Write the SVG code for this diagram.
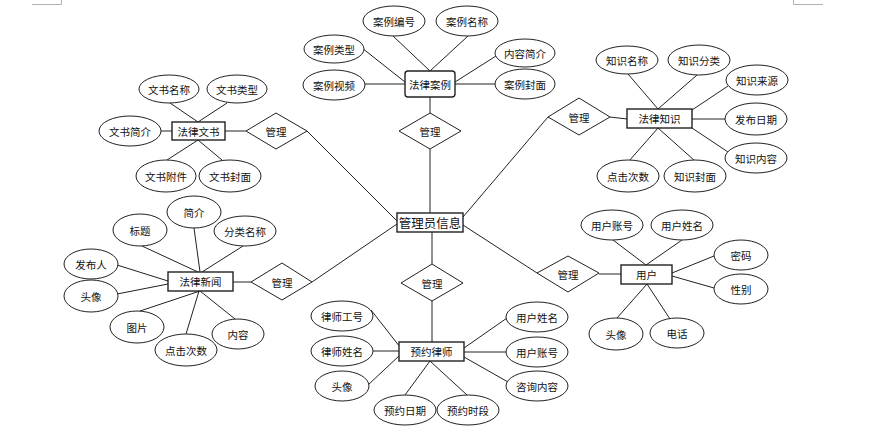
<svg xmlns="http://www.w3.org/2000/svg" width="884" height="435" viewBox="0 0 884 435">
<style>
  .bg{fill:#ffffff}
  .att ellipse{fill:#ffffff;stroke:#222;stroke-width:1}
  .ent rect{fill:#ffffff;stroke:#222;stroke-width:1.4}
  .rel polygon{fill:#ffffff;stroke:#222;stroke-width:1}
  .conn line{stroke:#222;stroke-width:1}
  .mark line{stroke:#b0b0b0;stroke-width:1}
  text{font-family:"Noto Sans CJK SC","Microsoft YaHei",sans-serif;font-size:10.5px;fill:#111;text-anchor:middle;dominant-baseline:central}
  .big{font-size:12.5px}
</style>
<rect class="bg" x="0" y="0" width="884" height="435"/>
<g class="mark">
  <line x1="32" y1="4.5" x2="61.5" y2="4.5"/><line x1="61.5" y1="0" x2="61.5" y2="4.5"/>
  <line x1="793.5" y1="0" x2="793.5" y2="4.5"/><line x1="793.5" y1="4.5" x2="823" y2="4.5"/>
</g>
<g id="connectors" class="conn">
  <!-- 法律案例 -->
  <line x1="393" y1="36" x2="430" y2="71"/><line x1="468" y1="36" x2="430" y2="71"/>
  <line x1="362" y1="48" x2="405" y2="82"/><line x1="365" y1="84" x2="405" y2="84"/>
  <line x1="496" y1="56" x2="455" y2="82"/><line x1="455" y1="84" x2="495" y2="84"/>
  <line x1="430" y1="97" x2="430" y2="113"/><line x1="430" y1="149" x2="430" y2="213"/>
  <!-- 法律文书 -->
  <line x1="170" y1="103" x2="198" y2="122"/><line x1="227" y1="103" x2="198" y2="122"/>
  <line x1="161" y1="131" x2="172" y2="131"/><line x1="167" y1="160" x2="198" y2="140"/>
  <line x1="222" y1="160" x2="198" y2="140"/><line x1="225" y1="131" x2="246" y2="131"/>
  <line x1="307" y1="131" x2="397" y2="221"/>
  <!-- 法律知识 -->
  <line x1="628" y1="74" x2="658" y2="109"/><line x1="697" y1="75" x2="658" y2="109"/>
  <line x1="728" y1="86" x2="692" y2="110"/><line x1="692" y1="119" x2="725" y2="119"/>
  <line x1="728" y1="152" x2="692" y2="128"/><line x1="629" y1="161" x2="658" y2="128"/>
  <line x1="695" y1="161" x2="658" y2="128"/><line x1="610" y1="117" x2="627" y2="119"/>
  <line x1="548" y1="117" x2="463" y2="217"/>
  <!-- 法律新闻 -->
  <line x1="194" y1="228" x2="200" y2="272"/><line x1="142" y1="246" x2="198" y2="272"/>
  <line x1="243" y1="246" x2="202" y2="272"/><line x1="117" y1="265" x2="168" y2="281"/>
  <line x1="117" y1="294" x2="168" y2="284"/><line x1="140" y1="311" x2="200" y2="291"/>
  <line x1="186" y1="334" x2="199" y2="291"/><line x1="235" y1="319" x2="200" y2="291"/>
  <line x1="233" y1="282" x2="251" y2="282"/><line x1="312" y1="282" x2="397" y2="224"/>
  <!-- 预约律师 -->
  <line x1="432" y1="232" x2="432" y2="264"/><line x1="432" y1="301" x2="432" y2="342"/>
  <line x1="371" y1="310" x2="400" y2="347"/><line x1="373" y1="351" x2="399" y2="351"/>
  <line x1="368" y1="385" x2="400" y2="355"/><line x1="405" y1="395" x2="430" y2="361"/>
  <line x1="467" y1="395" x2="430" y2="361"/><line x1="507" y1="318" x2="464" y2="348"/>
  <line x1="464" y1="352" x2="506" y2="352"/><line x1="508" y1="382" x2="464" y2="357"/>
  <!-- 用户 -->
  <line x1="613" y1="240" x2="646" y2="265"/><line x1="682" y1="240" x2="646" y2="265"/>
  <line x1="714" y1="256" x2="672" y2="273"/><line x1="714" y1="288" x2="672" y2="276"/>
  <line x1="617" y1="318" x2="647" y2="284"/><line x1="670" y1="319" x2="647" y2="284"/>
  <line x1="599" y1="274" x2="621" y2="274"/><line x1="463" y1="225" x2="537" y2="273"/>
</g>
<!-- 管理员信息 -->
<g id="admin" class="ent"><rect x="397" y="213" width="66" height="19"/><text class="big" x="430" y="222.5">管理员信息</text></g>
<!-- 法律案例 -->
<g id="case" class="ent"><rect x="405" y="71" width="50" height="26" rx="3"/><text x="430" y="84">法律案例</text></g>
<g id="case-attrs" class="att">
  <g id="a-case-no"><ellipse cx="394" cy="21" rx="31" ry="15"/><text x="394" y="21">案例编号</text></g>
  <g id="a-case-name"><ellipse cx="467" cy="21" rx="31" ry="15"/><text x="467" y="21">案例名称</text></g>
  <g id="a-case-type"><ellipse cx="334" cy="49" rx="30" ry="14"/><text x="334" y="49">案例类型</text></g>
  <g id="a-case-intro"><ellipse cx="525" cy="53" rx="30" ry="14"/><text x="525" y="53">内容简介</text></g>
  <g id="a-case-video"><ellipse cx="334" cy="85" rx="31" ry="15"/><text x="334" y="85">案例视频</text></g>
  <g id="a-case-cover"><ellipse cx="525" cy="84" rx="30" ry="15"/><text x="525" y="84">案例封面</text></g>
</g>
<g id="r-case" class="rel"><polygon points="430,113 461,131 430,149 399,131"/><text x="430" y="131">管理</text></g>
<!-- 法律文书 -->
<g id="doc" class="ent"><rect x="172" y="122" width="53" height="18"/><text x="198.5" y="131">法律文书</text></g>
<g id="doc-attrs" class="att">
  <g id="a-doc-name"><ellipse cx="169" cy="89" rx="30" ry="14"/><text x="169" y="89">文书名称</text></g>
  <g id="a-doc-type"><ellipse cx="237" cy="89" rx="30" ry="14"/><text x="237" y="89">文书类型</text></g>
  <g id="a-doc-intro"><ellipse cx="130" cy="131" rx="31" ry="15"/><text x="130" y="131">文书简介</text></g>
  <g id="a-doc-file"><ellipse cx="166" cy="176" rx="30" ry="16"/><text x="166" y="176">文书附件</text></g>
  <g id="a-doc-cover"><ellipse cx="230" cy="176" rx="31" ry="16"/><text x="230" y="176">文书封面</text></g>
</g>
<g id="r-doc" class="rel"><polygon points="276,113 307,131 276,149 246,131"/><text x="276" y="131">管理</text></g>
<!-- 法律知识 -->
<g id="know" class="ent"><rect x="627" y="109" width="65" height="19"/><text x="659.5" y="118.5">法律知识</text></g>
<g id="know-attrs" class="att">
  <g id="a-k-name"><ellipse cx="627" cy="60" rx="31" ry="14"/><text x="627" y="60">知识名称</text></g>
  <g id="a-k-cat"><ellipse cx="699" cy="60" rx="31" ry="15"/><text x="699" y="60">知识分类</text></g>
  <g id="a-k-src"><ellipse cx="757" cy="80" rx="31" ry="15"/><text x="757" y="80">知识来源</text></g>
  <g id="a-k-date"><ellipse cx="756" cy="119" rx="31" ry="16"/><text x="756" y="119">发布日期</text></g>
  <g id="a-k-content"><ellipse cx="756" cy="158" rx="31" ry="15"/><text x="756" y="158">知识内容</text></g>
  <g id="a-k-clicks"><ellipse cx="628" cy="176" rx="31" ry="16"/><text x="628" y="176">点击次数</text></g>
  <g id="a-k-cover"><ellipse cx="695" cy="176" rx="31" ry="16"/><text x="695" y="176">知识封面</text></g>
</g>
<g id="r-know" class="rel"><polygon points="579,98 610,117 579,135 548,117"/><text x="579" y="117">管理</text></g>
<!-- 法律新闻 -->
<g id="news" class="ent"><rect x="168" y="272" width="65" height="19"/><text x="200.5" y="281.5">法律新闻</text></g>
<g id="news-attrs" class="att">
  <g id="a-n-intro"><ellipse cx="194" cy="212" rx="27" ry="16"/><text x="194" y="212">简介</text></g>
  <g id="a-n-title"><ellipse cx="140" cy="230" rx="27" ry="16"/><text x="140" y="230">标题</text></g>
  <g id="a-n-cat"><ellipse cx="245" cy="231" rx="31" ry="15"/><text x="245" y="231">分类名称</text></g>
  <g id="a-n-pub"><ellipse cx="91" cy="264" rx="27" ry="15"/><text x="91" y="264">发布人</text></g>
  <g id="a-n-avatar"><ellipse cx="91" cy="296" rx="27" ry="16"/><text x="91" y="296">头像</text></g>
  <g id="a-n-pic"><ellipse cx="137" cy="327" rx="27" ry="16"/><text x="137" y="327">图片</text></g>
  <g id="a-n-clicks"><ellipse cx="186" cy="350" rx="31" ry="16"/><text x="186" y="350">点击次数</text></g>
  <g id="a-n-content"><ellipse cx="238" cy="334" rx="26" ry="15"/><text x="238" y="334">内容</text></g>
</g>
<g id="r-news" class="rel"><polygon points="282,263 312,282 282,300 251,282"/><text x="282" y="282">管理</text></g>
<!-- 预约律师 -->
<g id="r-appt" class="rel"><polygon points="432,264 463,283 432,301 401,283"/><text x="432" y="283">管理</text></g>
<g id="appt" class="ent"><rect x="399" y="342" width="65" height="19"/><text x="431.5" y="351.5">预约律师</text></g>
<g id="appt-attrs" class="att">
  <g id="a-l-no"><ellipse cx="342" cy="316" rx="31" ry="15"/><text x="342" y="316">律师工号</text></g>
  <g id="a-l-name"><ellipse cx="342" cy="351" rx="31" ry="15"/><text x="342" y="351">律师姓名</text></g>
  <g id="a-l-avatar"><ellipse cx="342" cy="386" rx="27" ry="15"/><text x="342" y="386">头像</text></g>
  <g id="a-l-date"><ellipse cx="405" cy="410" rx="31" ry="15"/><text x="405" y="410">预约日期</text></g>
  <g id="a-l-slot"><ellipse cx="468" cy="410" rx="31" ry="15"/><text x="468" y="410">预约时段</text></g>
  <g id="a-l-uname"><ellipse cx="537" cy="317" rx="31" ry="15"/><text x="537" y="317">用户姓名</text></g>
  <g id="a-l-uacc"><ellipse cx="537" cy="352" rx="31" ry="15"/><text x="537" y="352">用户账号</text></g>
  <g id="a-l-consult"><ellipse cx="537" cy="386" rx="31" ry="15"/><text x="537" y="386">咨询内容</text></g>
</g>
<!-- 用户 -->
<g id="r-user" class="rel"><polygon points="568,256 599,273 568,292 537,273"/><text x="568" y="274">管理</text></g>
<g id="user" class="ent"><rect x="621" y="265" width="51" height="19"/><text x="646.5" y="274.5">用户</text></g>
<g id="user-attrs" class="att">
  <g id="a-u-acc"><ellipse cx="612" cy="225" rx="31" ry="15"/><text x="612" y="225">用户账号</text></g>
  <g id="a-u-name"><ellipse cx="682" cy="225" rx="31" ry="15"/><text x="682" y="225">用户姓名</text></g>
  <g id="a-u-pwd"><ellipse cx="741" cy="255" rx="27" ry="15"/><text x="741" y="255">密码</text></g>
  <g id="a-u-sex"><ellipse cx="741" cy="289" rx="27" ry="15"/><text x="741" y="289">性别</text></g>
  <g id="a-u-avatar"><ellipse cx="616" cy="334" rx="27" ry="16"/><text x="616" y="334">头像</text></g>
  <g id="a-u-phone"><ellipse cx="677" cy="333" rx="27" ry="15"/><text x="677" y="333">电话</text></g>
</g>
</svg>
